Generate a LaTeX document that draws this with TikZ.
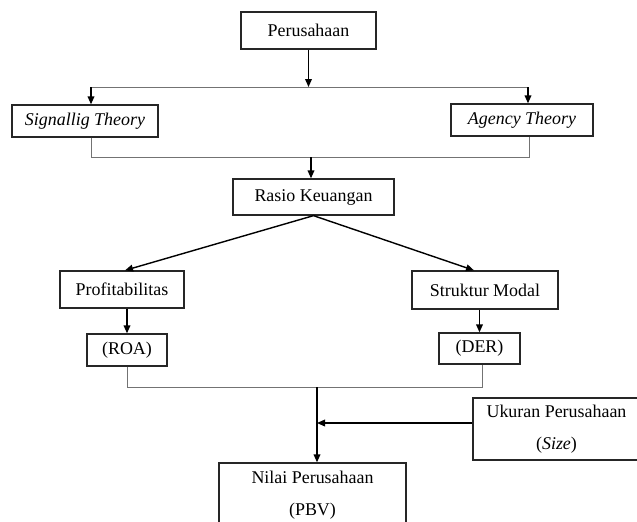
\documentclass[tikz,border=0pt]{standalone}
\usepackage{fontspec}
\setmainfont{Liberation Serif}
\usetikzlibrary{arrows.meta, positioning, calc}

\begin{document}
\begin{tikzpicture}[
  x=0.03cm, y=-0.03cm,
  box/.style={rectangle, draw=black!85, line width=1.1pt, inner sep=0pt, align=center,
    font=\fontsize{15.3}{27.3}\selectfont},
  arr/.style={-{Triangle[length=2.4mm, width=2mm]}, line width=1.2pt, black},
  link/.style={line width=0.8pt, black!55}
]
  \clip (0,0) rectangle (637,521);
  \node[box, minimum width=4.05cm, minimum height=1.11cm] (peru) at (308.5,30.5) {Perusahaan};
  \node[box, minimum width=4.38cm, minimum height=0.96cm] (sig) at (85,121) {\textit{Signallig Theory}};
  \node[box, minimum width=4.26cm, minimum height=0.96cm] (agen) at (522,120) {\textit{Agency Theory}};
  \node[box, minimum width=4.83cm, minimum height=1.08cm] (rasio) at (313.5,197) {Rasio Keuangan};
  \node[box, minimum width=3.72cm, minimum height=1.11cm] (prof) at (122,289.5) {Profitabilitas};
  \node[box, minimum width=4.38cm, minimum height=1.14cm] (struk) at (485,290) {Struktur Modal};
  \node[box, minimum width=2.4cm, minimum height=0.96cm] (roa) at (127,350) {(ROA)};
  \node[box, minimum width=2.43cm, minimum height=0.93cm] (der) at (479.5,348.5) {(DER)};
  \node[box, minimum width=5.01cm, minimum height=1.86cm] (ukur) at (556.5,429) {Ukuran Perusahaan\\(\textit{Size})};
  \node[box, minimum width=5.61cm, minimum height=1.92cm] (nilai) at (312.5,495) {Nilai Perusahaan\\(PBV)};

  \coordinate (bl) at (91,87);
  \coordinate (br) at (528,87);
  \coordinate (jl) at (91,157);
  \coordinate (jr) at (529,157);
  \coordinate (jm) at (311,157);
  \coordinate (kl) at (127,387);
  \coordinate (kr) at (482,387);
  \coordinate (km) at (317,387);
  \coordinate (um) at (317,423);

  \draw[arr] (peru.south) -- (peru.south |- bl);
  \draw[link] (bl) -- (br);
  \draw[arr] (bl) -- (bl |- sig.north);
  \draw[arr] (br) -- (br |- agen.north);
  \draw[link] (jl |- sig.south) -- (jl) -- (jr) -- (jr |- agen.south);
  \draw[arr] (jm) -- (jm |- rasio.north);
  \draw[arr] (rasio.south) -- ([xshift=0.09cm]prof.north);
  \draw[arr] (rasio.south) -- ([xshift=-0.33cm]struk.north);
  \draw[arr] (roa.north |- prof.south) -- (roa.north);
  \draw[arr] (der.north |- struk.south) -- (der.north);
  \draw[link] (roa.south) -- (kl) -- (kr) -- (kr |- der.south);
  \draw[arr] (km) -- (km |- nilai.north);
  \draw[arr] (um -| ukur.west) -- (um);
\end{tikzpicture}
\end{document}
